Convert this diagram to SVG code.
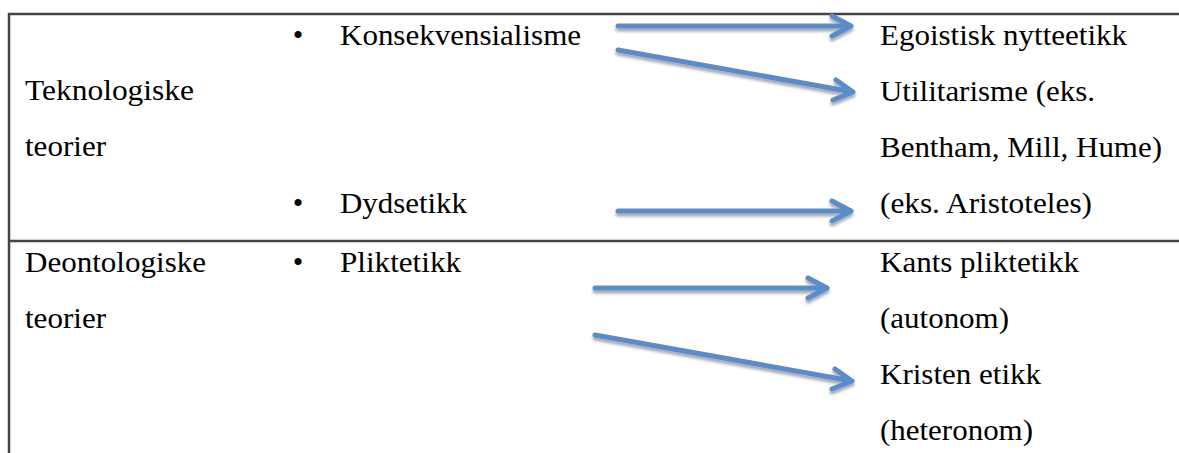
<svg xmlns="http://www.w3.org/2000/svg" width="1179" height="453" viewBox="0 0 1179 453">
<style>
text{font-family:'Liberation Serif','Times New Roman',Tinos,'DejaVu Serif',serif;font-size:30px;fill:#000;}
.b{text-anchor:middle;}
.grid{stroke:#444;stroke-width:2.5;fill:none;}
.arr{stroke:#5A8CCB;stroke-width:5;fill:none;stroke-linecap:round;stroke-linejoin:round;filter:url(#sh);}
</style>
<defs>
<filter id="sh" x="-10%" y="-50%" width="120%" height="200%">
<feGaussianBlur in="SourceAlpha" stdDeviation="1.5"/>
<feOffset dx="0" dy="2.5" result="o"/>
<feComponentTransfer><feFuncA type="linear" slope="0.35"/></feComponentTransfer>
<feMerge><feMergeNode/><feMergeNode in="SourceGraphic"/></feMerge>
</filter>
</defs>
<rect width="1179" height="453" fill="#fff"/>
<g id="table">
<path class="grid" d="M9,453 V14 H1179 M9,241 H1179"/>
</g>
<g id="row1-label"><text x="25" y="100" textLength="169" lengthAdjust="spacingAndGlyphs">Teknologiske</text><text x="25" y="156" textLength="81" lengthAdjust="spacingAndGlyphs">teorier</text></g>
<g id="konsekvensialisme"><text class="b" x="298" y="45">•</text><text x="340" y="45" textLength="241" lengthAdjust="spacingAndGlyphs">Konsekvensialisme</text></g>
<g id="dydsetikk"><text class="b" x="298" y="213">•</text><text x="340" y="213" textLength="127" lengthAdjust="spacingAndGlyphs">Dydsetikk</text></g>
<g id="egoistisk"><text x="880" y="45" textLength="247" lengthAdjust="spacingAndGlyphs">Egoistisk nytteetikk</text></g>
<g id="utilitarisme"><text x="880" y="101" textLength="215" lengthAdjust="spacingAndGlyphs">Utilitarisme (eks.</text><text x="880" y="157" textLength="282" lengthAdjust="spacingAndGlyphs">Bentham, Mill, Hume)</text></g>
<g id="aristoteles"><text x="880" y="213" textLength="212" lengthAdjust="spacingAndGlyphs">(eks. Aristoteles)</text></g>
<g id="row2-label"><text x="25" y="272" textLength="181" lengthAdjust="spacingAndGlyphs">Deontologiske</text><text x="25" y="328" textLength="81" lengthAdjust="spacingAndGlyphs">teorier</text></g>
<g id="pliktetikk"><text class="b" x="298" y="272">•</text><text x="340" y="272" textLength="121" lengthAdjust="spacingAndGlyphs">Pliktetikk</text></g>
<g id="kant"><text x="880" y="272" textLength="199" lengthAdjust="spacingAndGlyphs">Kants pliktetikk</text><text x="880" y="328" textLength="129" lengthAdjust="spacingAndGlyphs">(autonom)</text></g>
<g id="kristen"><text x="880" y="384" textLength="161" lengthAdjust="spacingAndGlyphs">Kristen etikk</text><text x="880" y="440" textLength="153" lengthAdjust="spacingAndGlyphs">(heteronom)</text></g>
<g id="connectors">
<path class="arr" d="M618,26 H851 M832,16 L851,26 L832,36"/>
<path class="arr" d="M618,50 L853,92 M836,80 L853,92 L833,100"/>
<path class="arr" d="M618,211 H851 M832,201 L851,211 L832,221"/>
<path class="arr" d="M595,288 H827 M808,278 L827,288 L808,298"/>
<path class="arr" d="M595,335 L852,381 M835,369 L852,381 L832,389"/>
</g>
</svg>
